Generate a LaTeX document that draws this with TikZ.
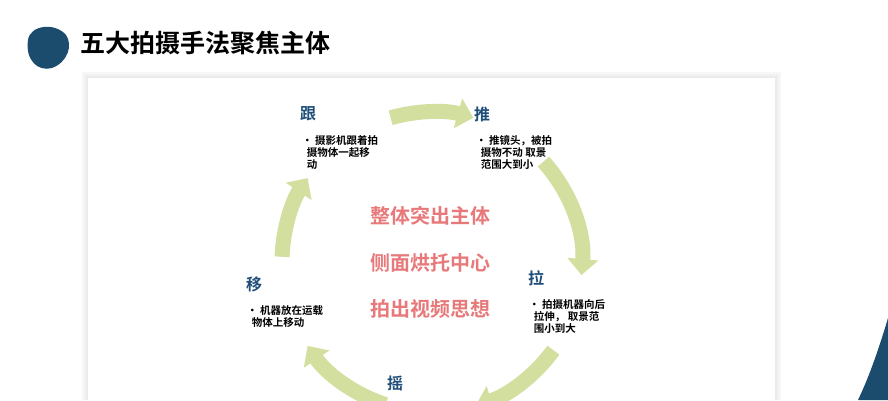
\documentclass[tikz,border=0pt]{standalone}
\usepackage{fontspec}
\setmainfont{Noto Sans CJK SC}[BoldFont={Noto Sans CJK SC Bold}]
\usetikzlibrary{arrows.meta}
\definecolor{navy}{HTML}{1B4C6E}
\definecolor{lbl}{HTML}{1F4E79}
\definecolor{grn}{HTML}{D3DF9E}
\definecolor{salmon}{HTML}{E8797A}
\begin{document}
\begin{tikzpicture}[x=1pt,y=-1pt,
  arc/.style={grn,line width=15pt,-{Triangle[width=30pt,length=16pt]}},
  lab/.style={text=lbl,font=\bfseries\fontsize{16}{16}\selectfont,anchor=west,inner sep=0},
  desc/.style={font=\bfseries\fontsize{10.5}{12}\selectfont,anchor=north west,align=left,inner sep=0},
  big/.style={text=salmon,font=\bfseries\fontsize{20}{20}\selectfont,inner sep=0}]
\useasboundingbox (0,0) rectangle (888,400);
\fill[white] (0,0) rectangle (888,400);
% card with shadow
\foreach \i/\o in {6/3,4/5,2/8}{\fill[black!\o] (88-\i,78-\i) rectangle (775+\i,400);}
\fill[white] (88,78) rectangle (775,400);
% blob
\fill[navy] (28,40) .. controls (30,25) and (55,22) .. (66,35) .. controls (73,45) and (68,62) .. (52,68) .. controls (38,72) and (25,60) .. (28,40) -- cycle;
\node[anchor=west,inner sep=0,font=\bfseries\fontsize{25}{25}\selectfont] (title) at (80,43) {五大拍摄手法聚焦主体};
% right corner shape
\fill[navy] (888,318) .. controls (880,345) and (870,375) .. (858,400) -- (888,400) -- cycle;
% circle arrows
\coordinate (c) at (432,262);
\draw[arc] ([shift={(-106:150)}]c) arc[start angle=-106,end angle=-74,radius=150];
\draw[arc] ([shift={(-42:150)}]c) arc[start angle=-42,end angle=5,radius=150];
\draw[arc] ([shift={(36:150)}]c) arc[start angle=36,end angle=73,radius=150];
\draw[arc] ([shift={(108:150)}]c) arc[start angle=108,end angle=146,radius=150];
\draw[arc] ([shift={(-178:150)}]c) arc[start angle=-178,end angle=-146,radius=150];
% labels
\node[lab] (gen) at (300,114) {跟};
\node[desc] (gend) at (302,135) {• 摄影机跟着拍\\\ \ 摄物体一起移\\\ \ 动};
\node[lab] (tui) at (474,114) {推};
\node[desc] (tuid) at (476,135) {• 推镜头，被拍\\\ \ 摄物不动 取景\\\ \ 范围大到小};
\node[lab] (la) at (528,278) {拉};
\node[desc] (lad) at (529,299) {• 拍摄机器向后\\\ \ 拉伸，\ 取景范\\\ \ 围小到大};
\node[lab] (yi) at (246,284) {移};
\node[desc] (yid) at (247,305) {• 机器放在运载\\\ \ 物体上移动};
\node[lab] (yao) at (387,383) {摇};
% center texts
\node[big] (t1) at (430,216) {整体突出主体};
\node[big] (t2) at (430,263) {侧面烘托中心};
\node[big] (t3) at (430,309) {拍出视频思想};
\end{tikzpicture}
\end{document}
